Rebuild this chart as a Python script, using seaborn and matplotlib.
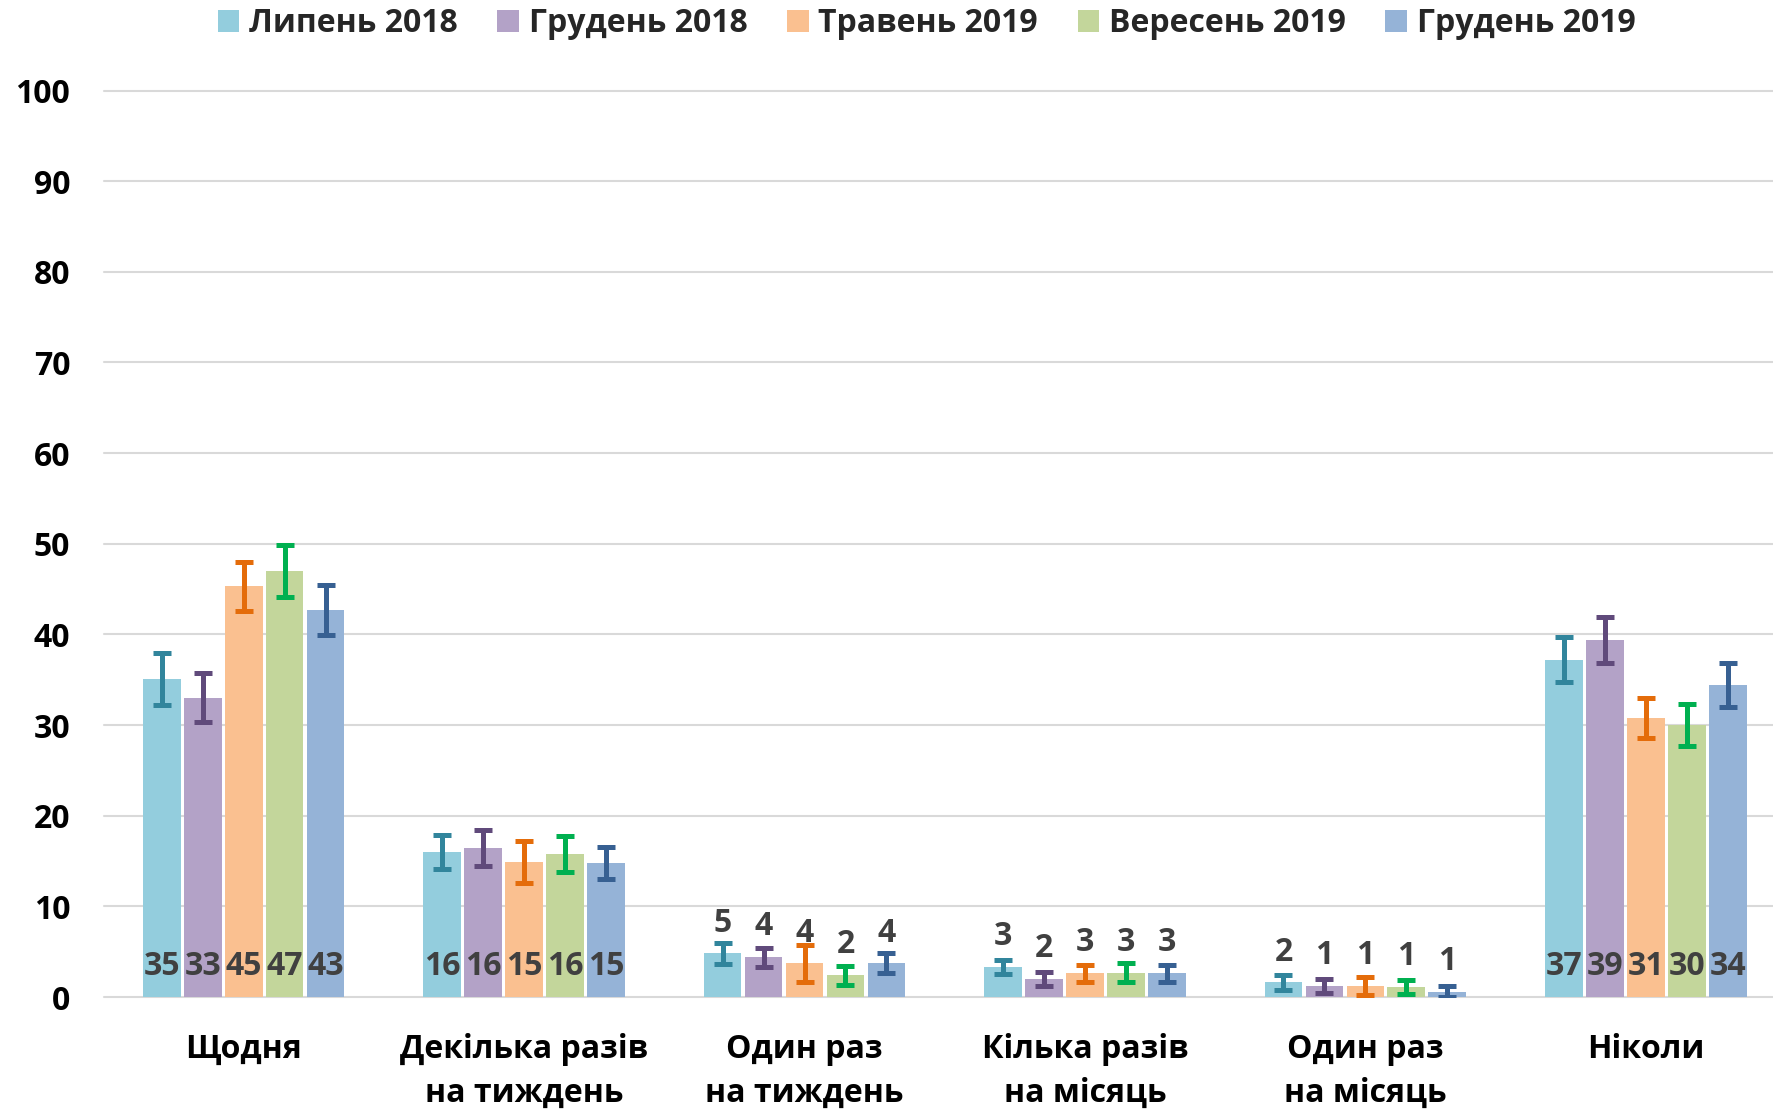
import matplotlib
matplotlib.use("Agg")
import matplotlib.pyplot as plt
import seaborn as sns
import pandas as pd

# Frequency categories (x axis)
categories = [
    "Щодня",
    "Декілька разів\nна тиждень",
    "Один раз\nна тиждень",
    "Кілька разів\nна місяць",
    "Один раз\nна місяць",
    "Ніколи",
]

# Survey waves
periods = ["Липень 2018", "Грудень 2018", "Травень 2019", "Вересень 2019", "Грудень 2019"]

# Share of respondents, %, per wave
jul_2018 = [35.1, 16.0, 4.8, 3.3, 1.6, 37.2]
dec_2018 = [33.0, 16.4, 4.4, 2.0, 1.2, 39.4]
may_2019 = [45.3, 14.9, 3.7, 2.6, 1.2, 30.8]
sep_2019 = [47.0, 15.8, 2.4, 2.7, 1.1, 30.0]
dec_2019 = [42.7, 14.8, 3.7, 2.6, 0.6, 34.4]

# Confidence interval half-widths, percentage points
jul_2018_err = [2.9, 1.9, 1.2, 0.8, 0.8, 2.5]
dec_2018_err = [2.7, 2.0, 1.05, 0.8, 0.8, 2.5]
may_2019_err = [2.7, 2.3, 2.0, 0.95, 1.0, 2.2]
sep_2019_err = [2.9, 2.0, 1.05, 1.05, 0.8, 2.35]
dec_2019_err = [2.75, 1.8, 1.1, 0.95, 0.6, 2.4]

y_ticks = [0, 10, 20, 30, 40, 50, 60, 70, 80, 90, 100]

series = [jul_2018, dec_2018, may_2019, sep_2019, dec_2019]
errors = [jul_2018_err, dec_2018_err, may_2019_err, sep_2019_err, dec_2019_err]

bar_colors = ["#93CDDD", "#B3A2C7", "#FAC090", "#C3D69B", "#95B3D7"]
err_colors = ["#31859C", "#604A7B", "#E46C0A", "#00B050", "#376092"]

# Categories whose labels sit inside the bar base rather than above it
inside_label_cats = {0, 1, 5}

rows = []
for period, vals in zip(periods, series):
    for cat, v in zip(categories, vals):
        rows.append({"cat": cat, "period": period, "value": v})
df = pd.DataFrame(rows)

sns.set_theme(style="white")
plt.rcParams["font.family"] = ["Open Sans", "DejaVu Sans"]
plt.rcParams["font.weight"] = "bold"

fig = plt.figure(figsize=(17.73, 11.09), dpi=100)
# the plotting area runs slightly past the right edge of the canvas
ax = fig.add_axes([103.5 / 1773, 112 / 1109, 1682.5 / 1773, (997 - 90.5) / 1109])

sns.barplot(
    data=df, x="cat", y="value", hue="period",
    order=categories, hue_order=periods,
    palette=bar_colors, width=0.73, gap=0.08,
    errorbar=None, linewidth=0, saturation=1, ax=ax, zorder=2,
)

bar_containers = list(ax.containers)
for i, container in enumerate(bar_containers):
    xs = [p.get_x() + p.get_width() / 2 for p in container.patches]
    ys = [p.get_height() for p in container.patches]
    ax.errorbar(
        xs, ys, yerr=errors[i], fmt="none", ecolor=err_colors[i],
        elinewidth=3.6, capsize=6.5, capthick=3.6, zorder=3,
    )
    for j, (x, y) in enumerate(zip(xs, ys)):
        anchor = 0 if j in inside_label_cats else y
        ax.annotate(
            f"{y:.0f}", xy=(x, anchor), xytext=(0, 15.8), textcoords="offset points",
            ha="center", va="baseline", fontsize=23, fontweight="bold",
            color="#404040", zorder=4,
        )

ax.set_ylim(0, 100)
ax.set_xlim(-0.5, len(categories) - 0.5)
ax.set_yticks(y_ticks)
ax.set_yticklabels([str(t) for t in y_ticks])
ax.yaxis.grid(True, color="#D9D9D9", linewidth=1.5)
ax.xaxis.grid(False)
ax.set_axisbelow(True)
for gl in ax.get_ygridlines():
    gl.set_clip_on(False)
for s in ax.spines.values():
    s.set_visible(False)

ax.tick_params(axis="y", length=0, pad=24, labelsize=23, labelcolor="black")
ax.tick_params(axis="x", length=0, pad=26, labelsize=23, labelcolor="black")
for lab in ax.get_xticklabels():
    lab.set_fontweight("bold")
    lab.set_linespacing(1.45)
for lab in ax.get_yticklabels():
    lab.set_fontweight("bold")
ax.set_xlabel("")
ax.set_ylabel("")

handles, labels = ax.get_legend_handles_labels()
ax.get_legend().remove()
fig.legend(
    handles, labels, loc="center", bbox_to_anchor=(0.5226, 1 - 23.5 / 1109),
    ncol=5, frameon=False, prop={"size": 23, "weight": "bold"},
    handlelength=0.68, handleheight=0.68, handletextpad=0.3,
    columnspacing=1.24, borderpad=0, borderaxespad=0,
)

fig.savefig("out.png", dpi=100)
